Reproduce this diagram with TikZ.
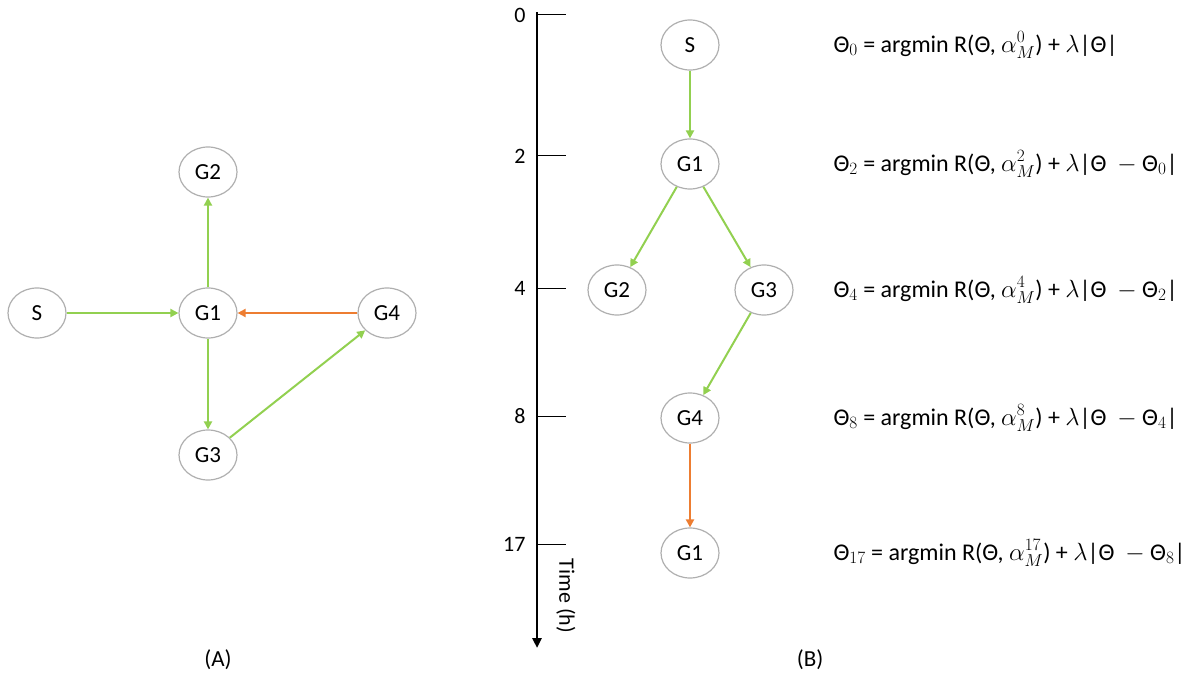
\documentclass[tikz,border=0pt]{standalone}
\usepackage{fontspec}
\setmainfont{Carlito}
\usetikzlibrary{arrows.meta, shapes.geometric}

\definecolor{edgegreen}{RGB}{146,208,80}
\definecolor{edgeorange}{RGB}{237,125,49}
\definecolor{ringgray}{RGB}{175,175,175}

\tikzset{
  state/.style={draw=ringgray, line width=1.2pt, ellipse, minimum width=58pt, minimum height=50pt, inner sep=0pt, font=\fontsize{23}{26}\selectfont},
  go/.style={draw=edgegreen, line width=2pt, -{Triangle[width=8pt,length=8pt]}},
  back/.style={draw=edgeorange, line width=2pt, -{Triangle[width=8pt,length=8pt]}},
  tick/.style={line width=1pt},
  ticklabel/.style={anchor=east, font=\fontsize{22}{26}\selectfont},
  rule/.style={anchor=west, font=\fontsize{24}{28}\selectfont}
}

\begin{document}
\begin{tikzpicture}[x=1pt, y=-1pt]
        \useasboundingbox (0,0) rectangle (1190,679);

        % (A)
        \node (s)  at (37,  313) [state] {S};
        \node (g1) at (208, 313) [state] {G1};
        \node (g2) at (208, 172) [state] {G2};
        \node (g4) at (387, 313) [state] {G4};
        \node (g3) at (208, 455) [state] {G3};
        \node (capa) at (218, 660) [font=\fontsize{23}{26}\selectfont] {(A)};

        \draw[go] (s) -- (g1);
        \draw[go] (g1) -- (g2);
        \draw[go] (g1) -- (g3);
        \draw[go] (g3) -- (g4);
        \draw[back] (g4) -- (g1);

        % (B) time axis
        \coordinate (top) at (537, 12);
        \coordinate (bot) at (537, 648);
        \draw[line width=2.5pt, -{Triangle[width=9pt,length=10pt]}] (top) -- (bot);
        \foreach \t/\y in {0/15, 2/156, 4/288, 8/416, 17/544} {
            \coordinate (t\t) at (537, \y);
            \draw[tick] (t\t) -- ++(29,0);
            \node[ticklabel] at (529, \y) {\t};
        }
        \node (time) at (566, 596) [rotate=-90, font=\fontsize{22}{26}\selectfont] {Time (h)};

        \node (bs)  at (690, 45)  [state] {S};
        \node (bg1) at (690, 164) [state] {G1};
        \node (bg2) at (617, 290) [state] {G2};
        \node (bg3) at (764, 290) [state] {G3};
        \node (bg4) at (690, 418) [state] {G4};
        \node (bg5) at (690, 553) [state] {G1};

        \draw[go] (bs) -- (bg1);
        \draw[go] (bg1) -- (bg2);
        \draw[go] (bg1) -- (bg3);
        \draw[go] (bg3) -- (bg4);
        \draw[back] (bg4) -- (bg5);

        \node (f0)  at (830, 45)  [rule] {Θ$_0$ = argmin R(Θ, $\alpha_M^0$) + $\lambda$|Θ|};
        \node (f2)  at (830, 164) [rule] {Θ$_2$ = argmin R(Θ, $\alpha_M^2$) + $\lambda$|Θ \ $-$ Θ$_0$|};
        \node (f4)  at (830, 290) [rule] {Θ$_4$ = argmin R(Θ, $\alpha_M^4$) + $\lambda$|Θ \ $-$ Θ$_2$|};
        \node (f8)  at (830, 418) [rule] {Θ$_8$ = argmin R(Θ, $\alpha_M^8$) + $\lambda$|Θ \ $-$ Θ$_4$|};
        \node (f17) at (830, 553) [rule] {Θ$_{17}$ = argmin R(Θ, $\alpha_M^{17}$) + $\lambda$|Θ \ $-$ Θ$_8$|};

        \node (capb) at (810, 660) [font=\fontsize{23}{26}\selectfont] {(B)};
    \end{tikzpicture}
\end{document}
